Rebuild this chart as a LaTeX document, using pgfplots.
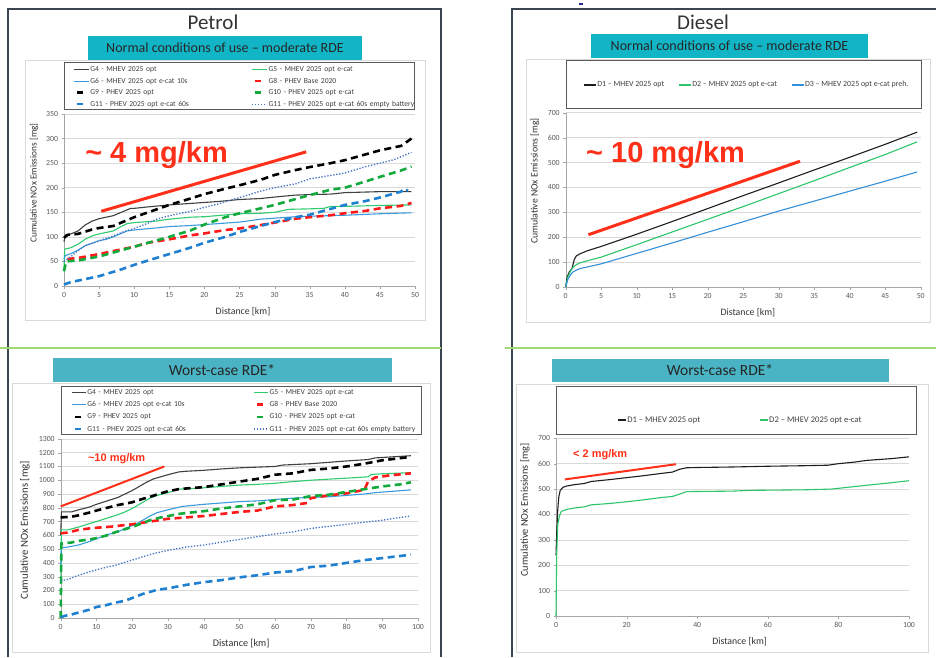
\documentclass[border=0pt]{standalone}
\usepackage{pgfplots}
\pgfplotsset{compat=1.18}
\usepackage{fontspec}
\setmainfont{Carlito}
\newfontfamily\lsans{Liberation Sans}
\definecolor{panel}{HTML}{3A4550}
\definecolor{sepgreen}{HTML}{9ED96E}
\definecolor{framec}{HTML}{D9D9D9}
\definecolor{tealA}{HTML}{12B5C6}
\definecolor{tealB}{HTML}{4AB4C4}
\definecolor{legframe}{HTML}{5A5A5A}
\definecolor{tickc}{HTML}{595959}
\definecolor{cG4}{HTML}{404040}
\definecolor{cG5}{HTML}{2FCB6E}
\definecolor{cG6}{HTML}{3A9BDC}
\definecolor{cG8}{HTML}{FF1A1A}
\definecolor{cG10}{HTML}{12AA3C}
\definecolor{cG11}{HTML}{1F7FD0}
\definecolor{cG11e}{HTML}{4472C4}
\definecolor{annot}{HTML}{FF3019}
\definecolor{cD1}{HTML}{1E1E1E}
\definecolor{cD2}{HTML}{2DC56B}
\definecolor{cD3}{HTML}{3590DA}

\pgfplotsset{
  panelaxis/.style={
    scale only axis, clip=false, anchor=south west,
    axis x line*=bottom, axis y line*=left,
    axis line style={draw=gray!70, -},
    tick align=outside, major tick length=2.5pt,
    tick style={draw=gray!70},
    ymajorgrids, grid style={draw=framec, line width=0.6pt},
    tick label style={font=\fontsize{7.8}{9}\selectfont, text=tickc},
    /pgf/number format/assume math mode=true,
    /pgf/number format/1000 sep={},
    label style={text=black!80},
    legend cell align=left,
  },
  solidl/.style={line width=1.1pt},
  dashl/.style={line width=2.6pt, dash pattern=on 7pt off 4.5pt},
  dotl/.style={line width=1.3pt, dash pattern=on 1.3pt off 1.7pt},
  legdash/.style={legend image code/.code={\draw[##1, solid] (3pt,0pt) -- (9pt,0pt);}},
}

\begin{document}
\begin{tikzpicture}
% ---------- decorations ----------
\fill[white] (0,0) rectangle (936pt,657pt);
\draw[panel, line width=1.2pt] (8pt,0pt) -- (8pt,648pt) -- (441pt,648pt) -- (441pt,0pt);
\draw[panel, line width=1.2pt] (512pt,0pt) -- (512pt,648pt) -- (936pt,648pt);
\draw[sepgreen, line width=1.5pt] (0pt,309pt) -- (441pt,309pt);
\draw[sepgreen, line width=1.5pt] (505pt,309pt) -- (936pt,309pt);
\fill[panel!60!blue] (579pt,652pt) rectangle (583pt,654pt);
% chart areas
\draw[framec, line width=0.8pt] (25pt,337pt) rectangle (425pt,597pt);
\draw[framec, line width=0.8pt] (526pt,335pt) rectangle (930pt,598pt);
\draw[framec, line width=0.8pt] (12pt,5pt) rectangle (430pt,274pt);
\draw[framec, line width=0.8pt] (516pt,5pt) rectangle (928pt,273pt);
% titles
\node[font=\fontsize{21}{24}\selectfont, text=black!80] at (213pt,635pt) {Petrol};
\node[font=\fontsize{21}{24}\selectfont, text=black!80] at (703pt,635pt) {Diesel};
% teal boxes
\fill[tealA] (88pt,597pt) rectangle (362pt,621pt);
\fill[tealA] (591pt,599pt) rectangle (868pt,623pt);
\fill[tealB] (53pt,275pt) rectangle (392pt,299pt);
\fill[tealB] (552pt,275pt) rectangle (889pt,298pt);
\node[font=\fontsize{14}{16}\selectfont, text=black!85] at (225pt,609pt) {Normal conditions of use – moderate RDE};
\node[font=\fontsize{14}{16}\selectfont, text=black!85] at (729.5pt,611pt) {Normal conditions of use – moderate RDE};
\node[font=\fontsize{15.5}{17}\selectfont, text=black!85] at (222pt,287pt) {Worst-case RDE*};
\node[font=\fontsize{15.5}{17}\selectfont, text=black!85] at (720pt,287pt) {Worst-case RDE*};
% legend frames
\draw[legframe, line width=1pt] (64pt,547pt) rectangle (414pt,594pt);
\draw[legframe, line width=1pt] (566pt,548pt) rectangle (921pt,596pt);
\draw[legframe, line width=1pt] (61pt,223pt) rectangle (421pt,271pt);
\draw[legframe, line width=1pt] (556pt,223pt) rectangle (916pt,271pt);

% ---------- Petrol, moderate RDE ----------
\begin{axis}[panelaxis, at={(64pt,371pt)}, width=351pt, height=172pt,
  xmin=0, xmax=50, ymin=0, ymax=350, xtick={0,5,...,50}, ytick={0,50,...,350},
  xlabel={Distance [km]}, ylabel={Cumulative NOx Emissions [mg]},
  xlabel style={at={(axis description cs:0.51,-0.151)}, anchor=center, font=\fontsize{9.8}{11}\selectfont},
  ylabel style={at={(axis description cs:-0.0855,0.599)}, anchor=center, font=\fontsize{9.3}{11}\selectfont},
  legend columns=2,
  legend image code/.code={\draw[#1] (0pt,0pt) -- (15pt,0pt);},
  legend style={draw=none, fill=none, at={(axis description cs:0.0256,1.285)}, anchor=north west,
    font=\fontsize{7.6}{8}\selectfont, row sep=2.5pt, column sep=0pt, inner sep=0pt,
    nodes={inner sep=1pt, text height=5.5pt, text depth=1.5pt, text width=150pt, align=left, text=black!75},
    /tikz/every even column/.append style={column sep=10pt}},
]
\addplot[cG4, solidl] coordinates {(0,90) (0.2,104) (1,106) (2,112) (3,124) (4,132) (5,137) (6,140) (7,143) (8,149) (9,155) (9.5,158) (10,158) (12,161) (15,165) (18,168) (20,170) (22,172) (25,176) (28,178) (30,181) (33,185) (35,186) (38,187) (40,190) (45,192) (49.5,192)};
\addlegendentry{G4 - MHEV 2025 opt}
\addplot[cG5, solidl] coordinates {(0,35) (0.1,75) (1,78) (2,85) (3,95) (4,102) (5,106) (7,112) (8,120) (9,127) (10,129) (13,132) (15,136) (18,140) (20,141) (25,147) (28,148) (30,150) (32,156) (35,157) (37,158) (38,162) (40,162) (45,164) (49.5,165)};
\addlegendentry{G5 - MHEV 2025 opt e-cat}
\addplot[cG6, solidl] coordinates {(0,55) (0.2,62) (1,66) (2,73) (3,82) (4,87) (5,92) (6,95) (7,100) (8,106) (9,112) (10,114) (13,118) (15,121) (18,123) (20,125) (23,128) (25,130) (28,136) (30,138) (33,141) (35,142) (40,144) (45,147) (49.5,149)};
\addlegendentry{G6 - MHEV 2025 opt e-cat 10s}
\addplot[cG8, dashl, legdash] coordinates {(0.5,55) (2,57) (5,65) (8,74) (10,80) (12,88) (15,95) (18,103) (20,107) (23,114) (25,117) (28,124) (30,129) (33,137) (35,140) (38,144) (40,148) (43,153) (45,158) (48,163) (49.5,169)};
\addlegendentry{G8 - PHEV Base 2020}
\addplot[black, dashl, legdash] coordinates {(0,98) (0.5,104) (2,106) (4,115) (5,118) (7,122) (8,128) (10,140) (12,150) (14,160) (15,165) (18,178) (20,187) (23,198) (25,205) (28,216) (30,226) (33,236) (35,242) (38,250) (40,256) (43,268) (45,276) (48,285) (49.5,300)};
\addlegendentry{G9 - PHEV 2025 opt}
\addplot[cG10, dashl, legdash] coordinates {(0,30) (0.3,50) (2,52) (5,60) (8,72) (10,80) (12,88) (15,100) (18,113) (20,125) (23,140) (25,148) (28,158) (30,165) (33,177) (35,185) (38,196) (40,200) (43,213) (45,222) (48,235) (49.5,243)};
\addlegendentry{G10 - PHEV 2025 opt e-cat}
\addplot[cG11, dashl, legdash] coordinates {(0,3) (1,8) (3,14) (5,20) (8,33) (10,43) (12,52) (15,65) (18,78) (20,88) (23,100) (25,110) (28,122) (30,130) (33,140) (35,145) (38,157) (40,165) (43,173) (45,180) (48,192) (48.5,198) (49,194)};
\addlegendentry{G11 - PHEV 2025 opt e-cat 60s}
\addplot[cG11e, dotl] coordinates {(0,50) (1,60) (2,72) (3,82) (5,92) (7,102) (9,113) (10,117) (12,128) (13,135) (15,143) (18,152) (20,160) (22,167) (25,180) (28,193) (30,200) (33,208) (35,218) (38,225) (40,230) (43,243) (45,250) (47,257) (49.5,272)};
\addlegendentry{G11 - PHEV 2025 opt e-cat 60s empty battery}
\addplot[annot, line width=3pt, forget plot] coordinates {(5.3,152) (34.5,273)};
\node[anchor=base west, font=\lsans\bfseries\fontsize{29}{30}\selectfont, text=annot, inner sep=0pt] at (axis cs:3,252) {\textasciitilde\ 4 mg/km};
\end{axis}

% ---------- Diesel, moderate RDE ----------
\begin{axis}[panelaxis, at={(565.7pt,370pt)}, width=355pt, height=174.3pt,
  xmin=0, xmax=50, ymin=0, ymax=700, xtick={0,5,...,50}, ytick={0,100,...,700},
  xlabel={Distance [km]}, ylabel={Cumulative NOx Emissions [mg]},
  xlabel style={at={(axis description cs:0.513,-0.149)}, anchor=center, font=\fontsize{9.8}{11}\selectfont},
  ylabel style={at={(axis description cs:-0.0865,0.608)}, anchor=center, font=\fontsize{9.8}{11}\selectfont},
  legend columns=3,
  legend image code/.code={\draw[#1] (0pt,0pt) -- (12pt,0pt);},
  legend style={draw=none, fill=none, at={(axis description cs:0.0487,1.159)}, anchor=west,
    font=\fontsize{7.9}{8}\selectfont, column sep=0pt, inner sep=0pt,
    nodes={inner sep=1pt, text=black!75},
    /tikz/every even column/.append style={column sep=13pt}},
]
\addplot[cD1, solidl] coordinates {(0,0) (0.2,40) (0.5,60) (0.9,75) (1.2,110) (1.5,125) (2,133) (3,145) (5,163) (10,212) (15,263) (20,315) (25,367) (30,418) (35,470) (40,521) (45,573) (49.5,622)};
\addlegendentry{D1 – MHEV 2025 opt}
\addplot[cD2, solidl] coordinates {(0,0) (0.3,40) (0.7,65) (1,78) (1.5,90) (2,97) (3,105) (5,120) (10,170) (15,221) (20,272) (25,323) (30,375) (35,427) (40,480) (45,532) (49.5,583)};
\addlegendentry{D2 – MHEV 2025 opt e-cat}
\addplot[cD3, solidl] coordinates {(0,0) (0.3,30) (0.7,50) (1,60) (1.5,68) (2,74) (3,80) (5,93) (10,135) (15,177) (20,220) (25,262) (30,305) (35,345) (40,385) (45,425) (49.5,462)};
\addlegendentry{D3 – MHEV 2025 opt e-cat preh.}
\addplot[annot, line width=3pt, forget plot] coordinates {(3.2,210) (33,505)};
\node[anchor=base west, font=\lsans\bfseries\fontsize{29}{30}\selectfont, text=annot, inner sep=0pt] at (axis cs:2.86,502) {\textasciitilde\ 10 mg/km};
\end{axis}

% ---------- Petrol, worst-case RDE ----------
\begin{axis}[panelaxis, at={(60.7pt,39pt)}, width=357.3pt, height=179.1pt,
  xmin=0, xmax=100, ymin=0, ymax=1300, xtick={0,10,...,100}, ytick={0,100,...,1300},
  xlabel={Distance [km]}, ylabel={Cumulative NOx Emissions [mg]},
  xlabel style={at={(axis description cs:0.505,-0.14)}, anchor=center, font=\fontsize{10.2}{12}\selectfont},
  ylabel style={at={(axis description cs:-0.1,0.49)}, anchor=center, font=\fontsize{10.8}{12}\selectfont},
  legend columns=2,
  legend image code/.code={\draw[#1] (0pt,0pt) -- (14pt,0pt);},
  legend style={draw=none, fill=none, at={(axis description cs:0.0288,1.287)}, anchor=north west,
    font=\fontsize{7.6}{8}\selectfont, row sep=3.3pt, column sep=0pt, inner sep=0pt,
    nodes={inner sep=1pt, text height=5.5pt, text depth=1.5pt, text width=150pt, align=left, text=black!75},
    /tikz/every even column/.append style={column sep=15pt}},
]
\addplot[cG4, solidl] coordinates {(0,600) (0.2,770) (3,770) (5,785) (8,805) (10,825) (13,850) (16,875) (18,900) (20,925) (22,955) (24,985) (26,1010) (28,1025) (30,1040) (33,1060) (35,1065) (40,1072) (45,1082) (50,1090) (55,1095) (60,1100) (62,1110) (70,1120) (75,1130) (80,1140) (86,1150) (88,1162) (93,1170) (98,1178)};
\addlegendentry{G4 - MHEV 2025 opt}
\addplot[cG5, solidl] coordinates {(0,250) (0.2,640) (2,640) (5,660) (8,685) (10,700) (13,725) (16,750) (18,770) (20,795) (23,840) (25,870) (27,890) (30,910) (33,935) (40,945) (45,955) (50,965) (55,970) (60,978) (65,990) (70,1000) (75,1008) (80,1015) (86,1025) (87,1042) (90,1047) (95,1052) (98,1055)};
\addlegendentry{G5 - MHEV 2025 opt e-cat}
\addplot[cG6, solidl] coordinates {(0,350) (0.2,510) (2,515) (5,530) (8,555) (10,575) (13,605) (16,625) (18,650) (20,670) (22,695) (25,740) (27,765) (30,785) (34,810) (40,825) (45,835) (50,845) (55,850) (60,860) (65,870) (70,875) (75,880) (80,890) (85,900) (88,910) (92,918) (98,930)};
\addlegendentry{G6 - MHEV 2025 opt e-cat 10s}
\addplot[cG8, dashl, legdash] coordinates {(0,615) (2,620) (5,640) (8,650) (10,655) (15,665) (18,675) (20,680) (25,700) (30,720) (35,730) (40,740) (45,755) (50,770) (55,780) (60,810) (65,820) (69,835) (70,870) (75,890) (80,905) (85,930) (86,990) (88,1020) (92,1035) (98,1050)};
\addlegendentry{G8 - PHEV Base 2020}
\addplot[black, dashl, legdash] coordinates {(0,730) (3,735) (5,745) (8,765) (10,780) (13,800) (16,820) (18,830) (20,840) (23,865) (25,880) (28,905) (30,920) (33,935) (35,940) (40,950) (45,970) (50,990) (55,1010) (60,1040) (65,1050) (70,1075) (75,1085) (80,1100) (85,1120) (87,1130) (90,1145) (95,1160) (98,1170)};
\addlegendentry{G9 - PHEV 2025 opt}
\addplot[cG10, dashl, legdash] coordinates {(0,0) (0.2,540) (3,548) (5,560) (8,570) (10,580) (13,600) (15,620) (18,645) (20,660) (23,690) (25,710) (28,730) (30,740) (33,755) (35,762) (40,775) (45,795) (50,810) (55,825) (60,855) (65,860) (70,885) (75,895) (80,915) (85,935) (90,955) (95,970) (98,985)};
\addlegendentry{G10 - PHEV 2025 opt e-cat}
\addplot[cG11, dashl, legdash] coordinates {(0,5) (1,15) (3,25) (5,40) (8,60) (10,80) (13,95) (15,110) (18,125) (20,145) (23,175) (25,190) (27,205) (30,215) (33,230) (35,240) (40,260) (45,275) (50,295) (55,310) (60,330) (65,340) (70,370) (75,380) (80,400) (85,420) (90,435) (95,450) (98,460)};
\addlegendentry{G11 - PHEV 2025 opt e-cat 60s}
\addplot[cG11e, dotl] coordinates {(0,270) (2,280) (5,310) (8,335) (10,350) (13,370) (15,380) (18,405) (20,420) (23,445) (25,460) (28,480) (30,490) (33,505) (35,515) (40,530) (45,550) (50,570) (55,590) (60,610) (65,625) (70,650) (75,665) (80,680) (85,695) (90,710) (95,730) (98,740)};
\addlegendentry{G11 - PHEV 2025 opt e-cat 60s empty battery}
\addplot[annot, line width=2pt, forget plot] coordinates {(0,810) (29,1100)};
\node[anchor=base west, font=\lsans\bfseries\fontsize{11}{12}\selectfont, text=annot, inner sep=0pt] at (axis cs:7.6,1133) {\textasciitilde 10 mg/km};
\end{axis}

% ---------- Diesel, worst-case RDE ----------
\begin{axis}[panelaxis, at={(556pt,41pt)}, width=353pt, height=177.7pt,
  xmin=0, xmax=100, ymin=0, ymax=700, xtick={0,20,...,100}, ytick={0,100,...,700},
  xlabel={Distance [km]}, ylabel={Cumulative NOx Emissions [mg]},
  xlabel style={at={(axis description cs:0.52,-0.146)}, anchor=center, font=\fontsize{9.8}{11}\selectfont},
  ylabel style={at={(axis description cs:-0.088,0.597)}, anchor=center, font=\fontsize{10.4}{12}\selectfont},
  legend columns=2,
  legend image code/.code={\draw[#1] (0pt,0pt) -- (8pt,0pt);},
  legend style={draw=none, fill=none, at={(axis description cs:0.1728,1.103)}, anchor=west,
    font=\fontsize{8.6}{9}\selectfont, column sep=0pt, inner sep=0pt,
    nodes={inner sep=1pt, text=black!75},
    /tikz/every even column/.append style={column sep=58pt}},
]
\addplot[cD1, solidl] coordinates {(0,240) (0.2,330) (0.5,420) (0.8,470) (1.2,495) (2,507) (3,512) (5,517) (8,522) (10,530) (15,537) (20,545) (25,553) (30,562) (33,567) (35,578) (37,584) (40,585) (50,587) (60,590) (70,592) (77,594) (80,600) (85,607) (88,613) (95,620) (100,627)};
\addlegendentry{D1 – MHEV 2025 opt}
\addplot[cD2, solidl] coordinates {(0,0) (0.2,250) (0.5,360) (1,395) (1.5,412) (3,420) (5,425) (8,430) (10,438) (15,443) (20,450) (25,458) (30,467) (33,471) (35,480) (37,490) (50,492) (55,495) (70,497) (78,500) (82,506) (86,512) (90,518) (95,525) (100,533)};
\addlegendentry{D2 – MHEV 2025 opt e-cat}
\addplot[annot, line width=2pt, forget plot] coordinates {(2.5,538) (34,598)};
\node[anchor=base west, font=\lsans\bfseries\fontsize{11}{12}\selectfont, text=annot, inner sep=0pt] at (axis cs:4.8,626) {< 2 mg/km};
\end{axis}

\pgfresetboundingbox
\path[use as bounding box] (0pt,0pt) rectangle (936pt,657pt);
\end{tikzpicture}
\end{document}
